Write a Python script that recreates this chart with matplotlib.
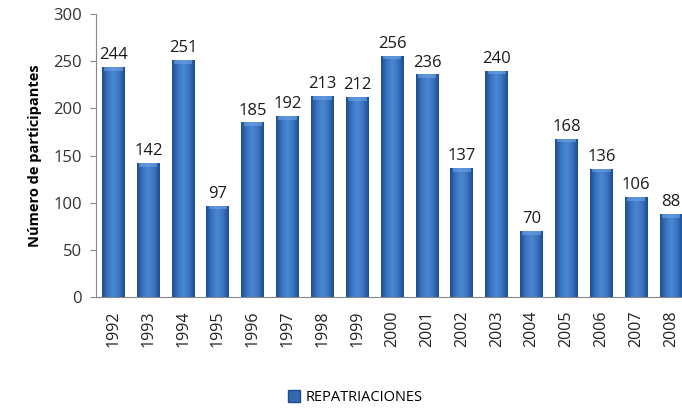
import numpy as np
import matplotlib
matplotlib.use("Agg")
import matplotlib.pyplot as plt
from matplotlib.colors import LinearSegmentedColormap

years = ["1992", "1993", "1994", "1995", "1996", "1997", "1998", "1999", "2000",
         "2001", "2002", "2003", "2004", "2005", "2006", "2007", "2008"]
repatriaciones = [244, 142, 251, 97, 185, 192, 213, 212, 256,
                  236, 137, 240, 70, 168, 136, 106, 88]

plt.rcParams["font.family"] = ["Open Sans", "DejaVu Sans"]

fig = plt.figure(figsize=(6.82, 4.08), dpi=100)
ax = fig.add_axes([0.1408, 0.272, 0.8592, 0.6937])

x = np.arange(len(years))
width = 0.66
bars = ax.bar(x, repatriaciones, width=width, color="#3468b0", zorder=2)

# cylinder-like horizontal shading on each bar
cmap = LinearSegmentedColormap.from_list(
    "cyl", ["#1f4c8f", "#3a74c0", "#4b88d4", "#3a74c0", "#1f4c8f"])
grad = np.linspace(0, 1, 64).reshape(1, -1)
for b in bars:
    x0, w, h = b.get_x(), b.get_width(), b.get_height()
    im = ax.imshow(grad, extent=[x0, x0 + w, 0, h], aspect="auto",
                   cmap=cmap, zorder=3, interpolation="bilinear")
    im.set_clip_path(b)
    # lighter top cap
    ax.fill_between([x0 + w * 0.1, x0 + w * 0.9], h - 4, h,
                    color="#6fa3e6", alpha=0.6, zorder=4, linewidth=0)

for xi, v in zip(x, repatriaciones):
    ax.text(xi, v + 4, str(v), ha="center", va="bottom", fontsize=12,
            color="#1a1a1a", zorder=5)

ax.set_xlim(-0.5, 16.315)
ax.set_ylim(0, 300)
ax.set_yticks(range(0, 301, 50))
ax.set_xticks(x)
ax.set_xticklabels(years, rotation=90, fontsize=11.5)
ax.tick_params(axis="y", labelsize=12, length=4, color="#888888", pad=6,
               labelcolor="#333333")
ax.tick_params(axis="x", length=0, pad=10, labelcolor="#222222")

for side in ["top", "right"]:
    ax.spines[side].set_visible(False)
for side in ["left", "bottom"]:
    ax.spines[side].set_color("#888888")

ax.set_ylabel("Número de participantes", fontsize=10.5, fontweight="bold",
              labelpad=8)

handle = plt.Line2D([], [], marker="s", linestyle="", markersize=8,
                    markerfacecolor="#3468b0", markeredgecolor="#1f4c8f")
fig.legend([handle], ["REPATRIACIONES"], loc="center",
           bbox_to_anchor=(0.52, 0.025), frameon=False, fontsize=10.5,
           handletextpad=0.3, handlelength=1.0)

fig.savefig("out.png", dpi=100)
